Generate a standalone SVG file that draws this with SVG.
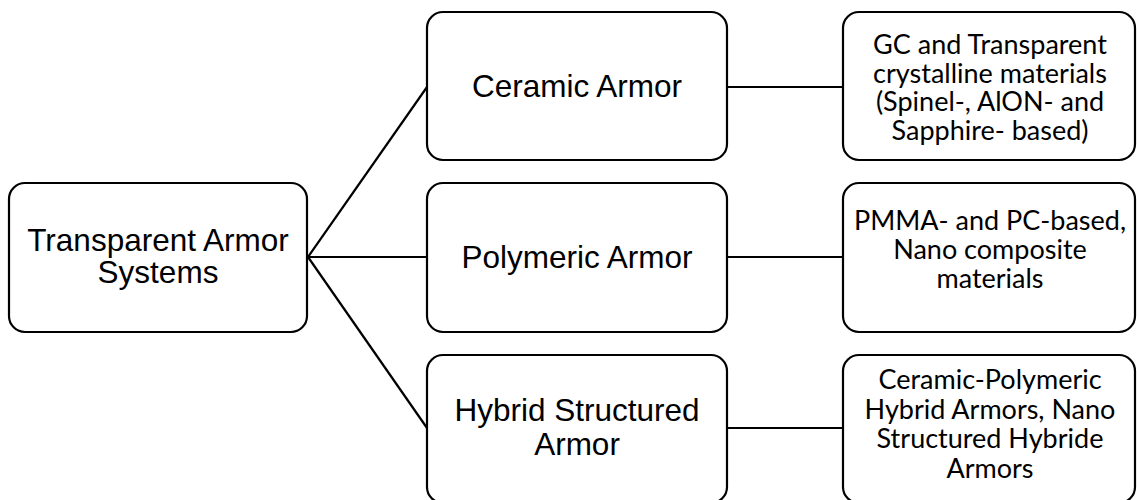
<svg xmlns="http://www.w3.org/2000/svg" width="1137" height="500" viewBox="0 0 1137 500">
<style>
.box{fill:#fff;stroke:#000;stroke-width:2.2}
.conn line{stroke:#000;stroke-width:2.2}
.a{font-family:"Liberation Sans",Arial,sans-serif;font-size:31.5px;fill:#000;text-anchor:middle}
.c{font-family:Lato,"Open Sans",sans-serif;font-size:27px;fill:#000;text-anchor:middle}
</style>
<rect width="1137" height="500" fill="#fff"/>
<g class="conn">
<line x1="308" y1="257" x2="427" y2="87"/>
<line x1="308" y1="257" x2="427" y2="257"/>
<line x1="308" y1="257" x2="427" y2="428"/>
<line x1="727" y1="87" x2="843" y2="87"/>
<line x1="727" y1="257" x2="843" y2="257"/>
<line x1="727" y1="428" x2="843" y2="428"/>
</g>
<g id="root">
<rect class="box" x="9" y="183" width="298" height="149" rx="16"/>
<text class="a" x="158" y="251">Transparent Armor</text>
<text class="a" x="158" y="283">Systems</text>
</g>
<g id="ceramic">
<rect class="box" x="427" y="12" width="300" height="148" rx="16"/>
<text class="a" x="577" y="97">Ceramic Armor</text>
</g>
<g id="polymeric">
<rect class="box" x="427" y="183" width="300" height="149" rx="16"/>
<text class="a" x="577" y="268">Polymeric Armor</text>
</g>
<g id="hybrid">
<rect class="box" x="427" y="355" width="300" height="148" rx="16"/>
<text class="a" x="577" y="421">Hybrid Structured</text>
<text class="a" x="577" y="455">Armor</text>
</g>
<g id="ceramic-detail">
<rect class="box" x="843" y="12" width="292" height="148" rx="16"/>
<text class="c" x="990" y="54">GC and Transparent</text>
<text class="c" x="990" y="83">crystalline materials</text>
<text class="c" x="990" y="111">(Spinel-, AlON- and</text>
<text class="c" x="990" y="140">Sapphire- based)</text>
</g>
<g id="polymeric-detail">
<rect class="box" x="843" y="183" width="292" height="149" rx="16"/>
<text class="c" x="990" y="230">PMMA- and PC-based,</text>
<text class="c" x="990" y="259">Nano composite</text>
<text class="c" x="990" y="288">materials</text>
</g>
<g id="hybrid-detail">
<rect class="box" x="843" y="355" width="292" height="148" rx="16"/>
<text class="c" x="990" y="389">Ceramic-Polymeric</text>
<text class="c" x="990" y="419">Hybrid Armors, Nano</text>
<text class="c" x="990" y="448">Structured Hybride</text>
<text class="c" x="990" y="478">Armors</text>
</g>
</svg>
